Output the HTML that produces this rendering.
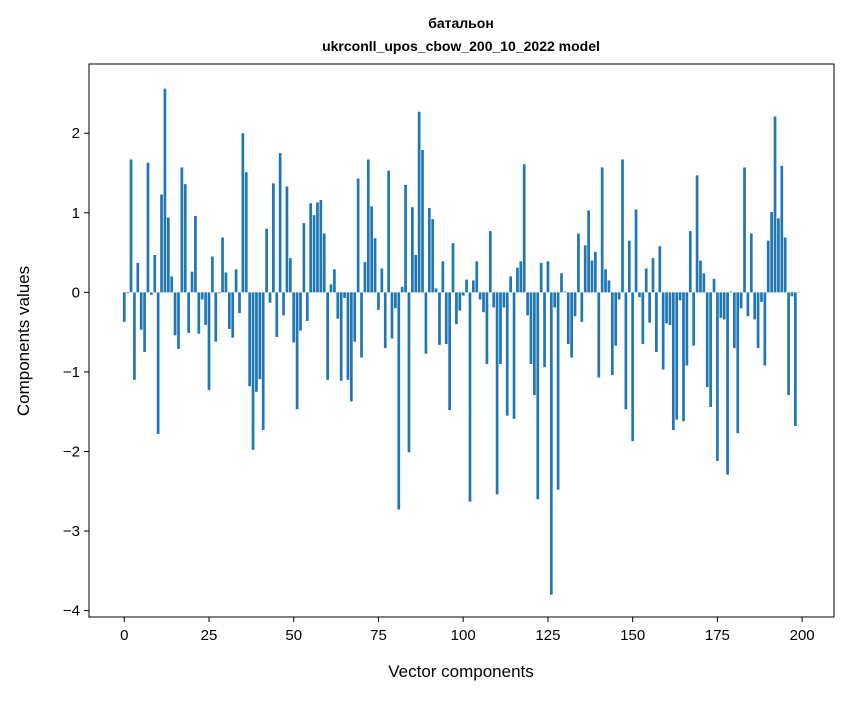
<!DOCTYPE html>
<html><head><meta charset="utf-8"><style>
html,body{margin:0;padding:0;background:#fff;}
svg text{font-family:"Liberation Sans","DejaVu Sans",sans-serif;fill:#000;}
</style></head><body>
<svg id="chart" width="847" height="696" xmlns="http://www.w3.org/2000/svg">
<rect width="847" height="696" fill="#fff"/>
<text x="461" y="28" text-anchor="middle" font-size="14" font-weight="bold">батальон</text>
<text x="461" y="51" text-anchor="middle" font-size="14" font-weight="bold">ukrconll_upos_cbow_200_10_2022 model</text>
<g id="bars"></g>
<g id="xticks"></g>
<g id="yticks"></g>
<rect x="89" y="64" width="745" height="553" fill="none" stroke="#000" stroke-width="1"/>
<text x="461" y="677" text-anchor="middle" font-size="17">Vector components</text>
<text transform="translate(29,341) rotate(-90)" text-anchor="middle" font-size="17">Components values</text>
</svg>
<script>
const values = [
-0.37,-0.01,1.67,-1.10,0.37,-0.47,-0.75,1.63,-0.03,0.47,
-1.78,1.23,2.56,0.94,0.20,-0.54,-0.71,1.57,1.36,-0.51,
0.26,0.96,-0.52,-0.09,-0.41,-1.23,0.45,-0.62,-0.01,0.69,
0.25,-0.46,-0.57,0.29,-0.26,2.00,1.51,-1.18,-1.98,-1.25,
-1.09,-1.73,0.80,-0.13,1.37,-0.56,1.75,-0.29,1.33,0.43,
-0.63,-1.47,-0.48,0.87,-0.36,1.12,0.97,1.13,1.16,0.74,
-1.10,0.10,0.29,-0.33,-1.11,-0.07,-1.10,-1.37,-0.62,1.43,
-0.82,0.38,1.67,1.08,0.68,-0.22,0.30,-0.70,1.53,-0.58,
-0.20,-2.73,0.07,1.35,-2.01,1.07,0.47,2.27,1.79,-0.77,
1.06,0.92,0.05,-0.66,0.39,-0.65,-1.48,0.62,-0.40,-0.23,
-0.04,0.16,-2.63,0.15,0.39,-0.09,-0.25,-0.90,0.77,-0.19,
-2.54,-0.90,-0.19,-1.55,0.20,-1.59,0.31,0.39,1.61,-0.29,
-0.90,-1.29,-2.60,0.37,-0.94,0.39,-3.80,-0.19,-2.48,0.24,
0.01,-0.65,-0.82,-0.30,0.74,-0.37,0.59,1.03,0.40,0.51,
-1.07,1.57,0.29,0.15,-1.04,-0.67,-0.09,1.67,-1.47,0.65,
-1.87,1.04,-0.06,-0.65,0.30,-0.38,0.43,-0.75,0.58,-0.97,
-0.39,-0.41,-1.73,-1.60,-0.10,-1.62,-0.92,0.77,-0.67,1.47,
0.40,0.24,-1.19,-1.44,0.17,-2.12,-0.32,-0.34,-2.29,0.01,
-0.70,-1.77,-0.20,1.57,-0.30,0.74,-0.34,-0.70,-0.12,-0.92,
0.65,1.01,2.21,0.93,1.59,0.69,-1.29,-0.05,-1.68,0.00
];
const xTickLabels = ["0","25","50","75","100","125","150","175","200"];
const xTickValues = [0,25,50,75,100,125,150,175,200];
const yTickValues = [-4,-3,-2,-1,0,1,2];
const yTickLabels = ["\u22124","\u22123","\u22122","\u22121","0","1","2"];

const NS="http://www.w3.org/2000/svg";
const xMin=-10.4, xMax=209.4, plotLeft=89, plotRight=834;
const yMin=-4.08, yMax=2.87, plotTop=64, plotBottom=617;
function xs(v){return plotLeft+(v-xMin)/(xMax-xMin)*(plotRight-plotLeft);}
function ys(v){return plotBottom-(v-yMin)/(yMax-yMin)*(plotBottom-plotTop);}
const barsG=document.getElementById('bars');
const bw=xs(0.8)-xs(0);
values.forEach((v,i)=>{
  const r=document.createElementNS(NS,'rect');
  const y0=ys(0), y1=ys(v);
  r.setAttribute('x',xs(i)-bw/2);
  r.setAttribute('y',Math.min(y0,y1));
  r.setAttribute('width',bw);
  r.setAttribute('height',Math.max(Math.abs(y1-y0),0.3));
  r.setAttribute('fill','#1f77b4');
  
  
  barsG.appendChild(r);
});
const xg=document.getElementById('xticks');
xTickValues.forEach((t,i)=>{
  const l=document.createElementNS(NS,'line');
  l.setAttribute('x1',xs(t));l.setAttribute('x2',xs(t));
  l.setAttribute('y1',plotBottom);l.setAttribute('y2',plotBottom+5);
  l.setAttribute('stroke','#000');
  
  
  xg.appendChild(l);
  const tx=document.createElementNS(NS,'text');
  tx.setAttribute('x',xs(t));tx.setAttribute('y',plotBottom+23);
  tx.setAttribute('text-anchor','middle');tx.setAttribute('font-size','15');
  tx.textContent=xTickLabels[i];
  
  
  xg.appendChild(tx);
});
const yg=document.getElementById('yticks');
yTickValues.forEach((t,i)=>{
  const l=document.createElementNS(NS,'line');
  l.setAttribute('x1',plotLeft-5);l.setAttribute('x2',plotLeft);
  l.setAttribute('y1',ys(t));l.setAttribute('y2',ys(t));
  l.setAttribute('stroke','#000');
  
  
  yg.appendChild(l);
  const tx=document.createElementNS(NS,'text');
  tx.setAttribute('x',plotLeft-9);tx.setAttribute('y',ys(t)+5);
  tx.setAttribute('text-anchor','end');tx.setAttribute('font-size','15');
  tx.textContent=yTickLabels[i];
  
  
  yg.appendChild(tx);
});
</script>
</body></html>
